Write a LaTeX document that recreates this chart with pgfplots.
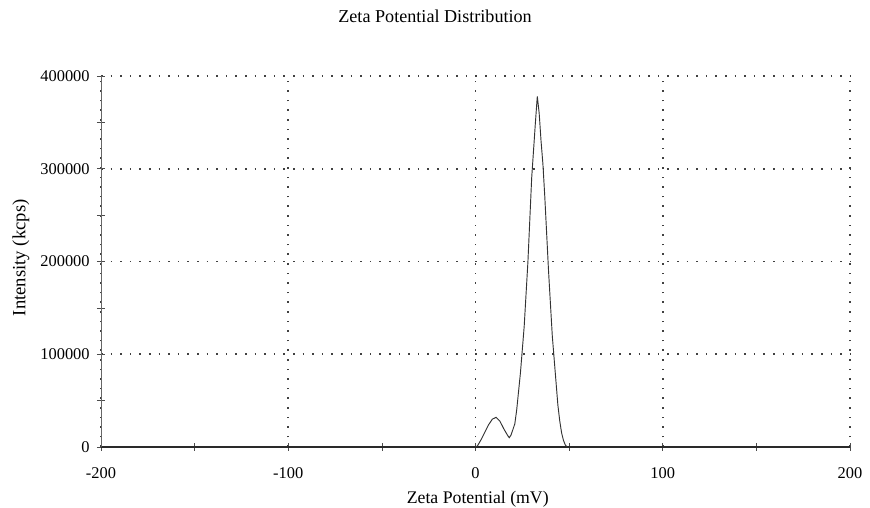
\documentclass[border=0pt]{standalone}
\usepackage{fontspec}
\setmainfont{Liberation Serif}
\usepackage{pgfplots}
\pgfplotsset{compat=1.18}
\begin{document}
\fontsize{13pt}{15pt}\selectfont
\begin{tikzpicture}
\begin{axis}[
  name=ax,
  scale only axis,
  width=561.75pt, height=278.25pt,
  xmin=-200, xmax=200, ymin=0, ymax=400000,
  axis x line=bottom, axis y line=left,
  axis line style={-},
  x axis line style={line width=0.9pt, black!85},
  y axis line style={line width=0.5pt, black!60},
  xtick={-200,-100,0,100,200},
  minor xtick={-150,-50,50,150},
  ytick={0,100000,200000,300000,400000},
  minor ytick={50000,150000,250000,350000},
  tick align=center,
  major tick length=6pt, minor tick length=6pt,
  tick style={black!70, line width=0.5pt},
  xmajorgrids, ymajorgrids,
  major grid style={black!75, line width=1.2pt, dash pattern=on 1.2pt off 6pt},
  scaled y ticks=false,
  /pgf/number format/.cd, fixed, 1000 sep={}, assume math mode=true,
  /pgfplots/.cd,
  tick label style={font=\fontsize{12.3pt}{14pt}\selectfont},
  xticklabel style={yshift=-8pt},
  yticklabel style={xshift=-1pt},
  title={Zeta Potential Distribution},
  title style={at={(rel axis cs:0.446,1.140)}, anchor=center, inner sep=0pt, font=\fontsize{13.6pt}{16pt}\selectfont},
  xlabel={Zeta Potential (mV)},
  xlabel style={at={(rel axis cs:0.503,-0.14)}, anchor=center, inner sep=0pt, font=\fontsize{13.3pt}{16pt}\selectfont},
  ylabel={Intensity (kcps)},
  ylabel style={at={(rel axis cs:-0.107,0.51)}, anchor=center, inner sep=0pt, rotate=0, font=\fontsize{14pt}{16pt}\selectfont},
  clip=false,
]
\addplot[black!80, line width=0.7pt] coordinates {
(-200,0) (0,0) (1,1000) (3,8000) (5,16000) (7,24000) (9,30000) (11,32000)
(13,28000) (15,20000) (17,13000) (18,10000) (19,13000) (21,25000) (22,40000)
(23,60000) (24,80000) (25,105000) (26,130000) (27,165000) (28,200000)
(29,245000) (30,290000) (31,320000) (32,350000) (33,378000) (34,360000)
(35,330000) (36,305000) (37,270000) (38,230000) (39,190000) (40,155000)
(41,120000) (42,95000) (43,70000) (44,45000) (45,28000) (46,15000)
(47,7000) (48,2000) (49,0) (200,0)
};
\end{axis}
\pgfresetboundingbox
\path[use as bounding box] ([shift={(-75.75pt,-45.75pt)}]ax.south west) rectangle ([shift={(15pt,57pt)}]ax.north east);
\end{tikzpicture}
\end{document}
